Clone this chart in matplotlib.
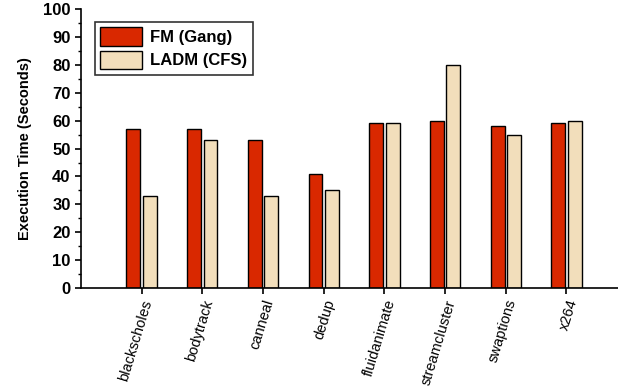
import numpy as np
import matplotlib.pyplot as plt
from matplotlib.ticker import MultipleLocator

plt.rcParams['font.family'] = ['Liberation Sans', 'DejaVu Sans']

benchmarks = ["blackscholes", "bodytrack", "canneal", "dedup",
              "fluidanimate", "streamcluster", "swaptions", "x264"]
fm_gang = [57, 57, 53, 41, 59, 60, 58, 59]
ladm_cfs = [33, 53, 33, 35, 59, 80, 55, 60]

x = np.arange(len(benchmarks))
w = 0.23

fig = plt.figure(figsize=(6.18, 3.92), dpi=100)
ax = fig.add_axes([0.131, 0.265, 0.869, 0.712])

ax.bar(x - 0.135, fm_gang, w, color="#D92800", edgecolor="black", linewidth=1.0, label="FM (Gang)")
ax.bar(x + 0.135, ladm_cfs, w, color="#F2DEBB", edgecolor="black", linewidth=1.0, label="LADM (CFS)")

ax.set_xlim(-1, 7.85)
ax.set_ylim(0, 100)
ax.yaxis.set_major_locator(MultipleLocator(10))
ax.yaxis.set_minor_locator(MultipleLocator(5))
ax.set_xticks(x)
ax.set_xticklabels(benchmarks, rotation=73, ha="right", rotation_mode="anchor", fontsize=10.5)
for lbl in ax.get_yticklabels():
    lbl.set_fontweight("bold")
    lbl.set_fontsize(12)
ax.tick_params(axis="both", direction="out", width=1.2, length=4)
ax.tick_params(axis="y", which="minor", length=2.5, width=1.0)
ax.tick_params(axis="x", length=4, pad=3)

ax.spines["top"].set_visible(False)
ax.spines["right"].set_visible(False)
ax.spines["left"].set_linewidth(1.2)
ax.spines["bottom"].set_linewidth(1.2)

ax.set_ylabel("Execution Time (Seconds)", fontsize=10.5, fontweight="bold", labelpad=8)

leg = ax.legend(loc="upper left", bbox_to_anchor=(0.01, 0.985), fancybox=False,
                edgecolor="black", prop={"weight": "bold", "size": 12},
                handlelength=2.5, handleheight=1.3, borderpad=0.35, labelspacing=0.3,
                handletextpad=0.5)
leg.get_frame().set_linewidth(1.2)

fig.savefig("out.png", dpi=100)
